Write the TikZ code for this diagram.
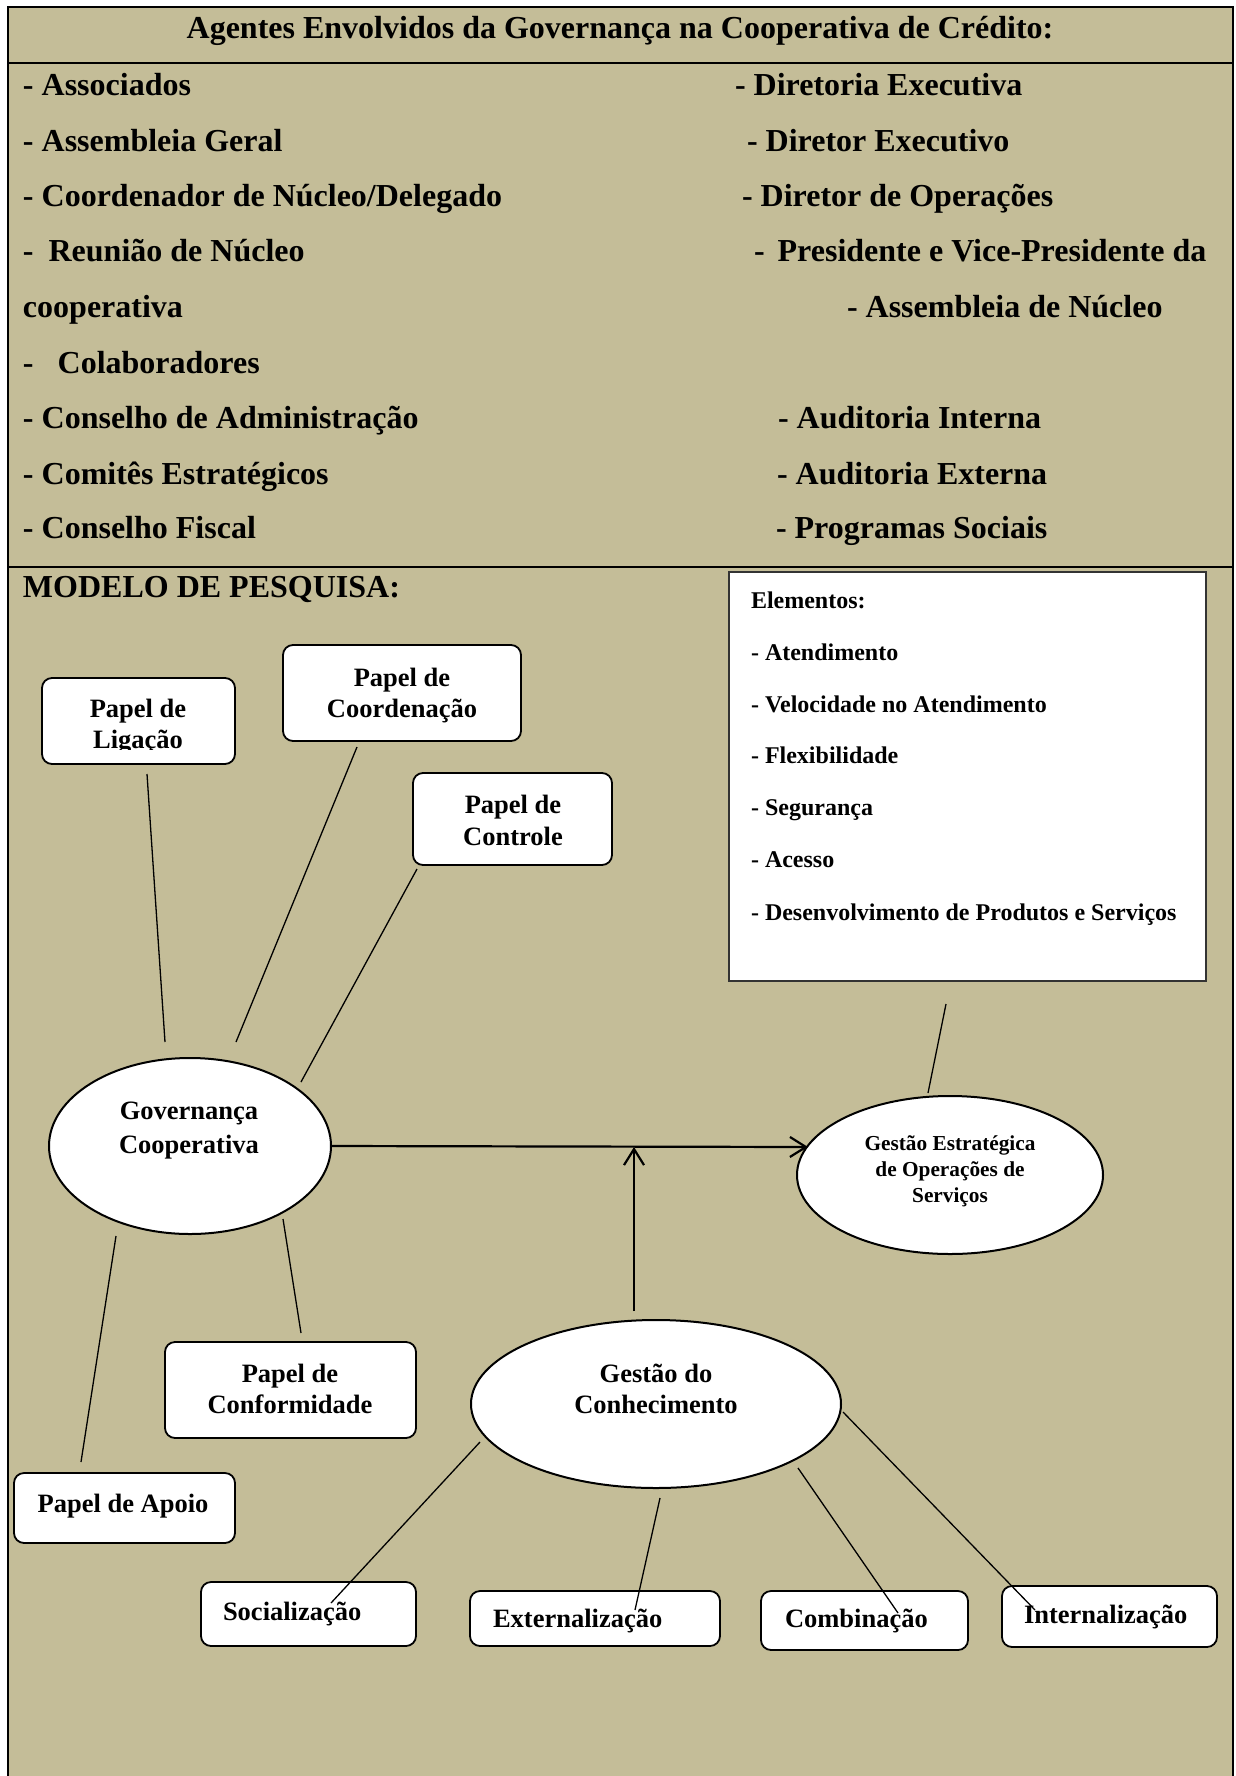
\documentclass[tikz,border=0pt]{standalone}
\usepackage{fontspec}
\setmainfont{Liberation Serif}
\usetikzlibrary{arrows.meta,shapes.geometric}
\definecolor{bgtan}{HTML}{C4BD98}
\begin{document}
\begin{tikzpicture}[x=1pt,y=-1pt,
  every node/.style={inner sep=0pt,outer sep=0pt},
  lst/.style={anchor=base west,font=\fontsize{32}{36}\selectfont\bfseries},
  elt/.style={anchor=base west,font=\fontsize{24}{28}\selectfont\bfseries},
  btxt/.style={anchor=base,font=\fontsize{26.5}{30}\selectfont\bfseries},
  bltxt/.style={anchor=base west,font=\fontsize{26.5}{30}\selectfont\bfseries},
  stxt/.style={anchor=base,font=\fontsize{21.3}{25}\selectfont\bfseries},
  rbox/.style={draw,line width=1.8pt,fill=white,rounded corners=10pt},
  ell/.style={draw,ellipse,line width=2pt,fill=white},
  con/.style={line width=1.3pt},
  arr/.style={line width=2.2pt,-{Straight Barb[length=16pt,width=20pt]}}
]
\useasboundingbox (0,0) rectangle (1235,1776);
% background and frame
\fill[bgtan] (8,7) rectangle (1233,1776);
\draw[line width=2.4pt] (8,1776) -- (8,7) -- (1233,7) -- (1233,1776);
\draw[line width=2.4pt] (8,63) -- (1233,63);
\draw[line width=1.3pt] (8,567) -- (1233,567);

% header
\node[anchor=base,font=\fontsize{32}{36}\selectfont\bfseries] (title) at (620,39) {Agentes Envolvidos da Governança na Cooperativa de Crédito:};

% left list
\node[lst] (l1) at (23,96) {- Associados};
\node[lst] (l2) at (23,152) {- Assembleia Geral};
\node[lst] (l3) at (23,207) {- Coordenador de Núcleo/Delegado};
\node[lst] (l4) at (23,262) {-\hspace{15pt}Reunião de Núcleo};
\node[lst] (l5) at (23,317) {cooperativa};
\node[lst] (l6) at (23,373) {-\hspace{24pt}Colaboradores};
\node[lst] (l7) at (23,428) {- Conselho de Administração};
\node[lst] (l8) at (23,484) {- Comitês Estratégicos};
\node[lst] (l9) at (23,538) {- Conselho Fiscal};

% right list
\node[lst] (r1) at (735,96) {- Diretoria Executiva};
\node[lst] (r2) at (747,152) {- Diretor Executivo};
\node[lst] (r3) at (742,207) {- Diretor de Operações};
\node[lst] (r4) at (754,262) {-\hspace{13pt}Presidente e Vice-Presidente da};
\node[lst] (r5) at (847,317) {- Assembleia de Núcleo};
\node[lst] (r6) at (778,428) {- Auditoria Interna};
\node[lst] (r7) at (777,484) {- Auditoria Externa};
\node[lst] (r8) at (776,538) {- Programas Sociais};

% model title
\node[lst] (mt) at (23,597) {MODELO DE PESQUISA:};

% Elementos box
\node[draw=black!80,line width=2pt,fill=white,minimum width=477pt,minimum height=409pt] (elem) at (967.5,776.5) {};
\node[elt] (e0) at (751,608) {Elementos:};
\node[elt] (e1) at (751,660) {- Atendimento};
\node[elt] (e2) at (751,712) {- Velocidade no Atendimento};
\node[elt] (e3) at (751,763) {- Flexibilidade};
\node[elt] (e4) at (751,815) {- Segurança};
\node[elt] (e5) at (751,867) {- Acesso};
\node[elt] (e6) at (751,920) {- Desenvolvimento de Produtos e Serviços};

% role boxes
\node[rbox,minimum width=193pt,minimum height=86pt] (lig) at (138.5,721) {};
\begin{scope}
\clip (42,678) rectangle (235,749.5);
\node[btxt] (ligt1) at (138,717) {Papel de};
\node[btxt] (ligt2) at (138,748) {Ligação};
\end{scope}
\node[rbox,minimum width=238pt,minimum height=96pt] (coo) at (402,693) {};
\node[btxt] (coot1) at (402,686) {Papel de};
\node[btxt] (coot2) at (402,717) {Coordenação};
\node[rbox,minimum width=199pt,minimum height=92pt] (ctl) at (512.5,819) {};
\node[btxt] (ctlt1) at (513,813) {Papel de};
\node[btxt] (ctlt2) at (513,845) {Controle};
\node[rbox,minimum width=251pt,minimum height=96pt] (cnf) at (290.5,1390) {};
\node[btxt] (cnft1) at (290,1382) {Papel de};
\node[btxt] (cnft2) at (290,1413) {Conformidade};
\node[rbox,minimum width=221pt,minimum height=70pt] (apo) at (124.5,1508) {};
\node[btxt] (apot) at (123,1512) {Papel de Apoio};
\node[rbox,minimum width=215pt,minimum height=64pt] (soc) at (308.5,1614) {};
\node[bltxt] (soct) at (223,1620) {Socialização};
\node[rbox,minimum width=250pt,minimum height=55pt] (ext) at (595,1618.5) {};
\node[bltxt] (extt) at (493,1627) {Externalização};
\node[rbox,minimum width=207pt,minimum height=59pt] (cmb) at (864.5,1620.5) {};
\node[bltxt] (cmbt) at (785,1627) {Combinação};
\node[rbox,minimum width=215pt,minimum height=61pt] (int) at (1109.5,1616.5) {};
\node[bltxt] (intt) at (1024,1623) {Internalização};

% ellipses
\node[ell,minimum width=282pt,minimum height=176pt] (gov) at (190,1146) {};
\node[btxt] (govt1) at (189,1119) {Governança};
\node[btxt] (govt2) at (189,1153) {Cooperativa};
\node[ell,minimum width=306pt,minimum height=158pt] (gse) at (950,1175) {};
\node[stxt] (gset1) at (950,1150) {Gestão Estratégica};
\node[stxt] (gset2) at (950,1176) {de Operações de};
\node[stxt] (gset3) at (950,1202) {Serviços};
\node[ell,minimum width=370pt,minimum height=168pt] (gkn) at (656,1404) {};
\node[btxt] (gknt1) at (656,1382) {Gestão do};
\node[btxt] (gknt2) at (656,1413) {Conhecimento};

% connector end points
\coordinate (c1a) at (147,774);  \coordinate (c1b) at (165,1042);
\coordinate (c2a) at (357,747);  \coordinate (c2b) at (236,1042);
\coordinate (c3a) at (417,869);  \coordinate (c3b) at (301,1082);
\coordinate (c4a) at (116,1236); \coordinate (c4b) at (81,1462);
\coordinate (c5a) at (283,1219); \coordinate (c5b) at (301,1333);
\coordinate (c6a) at (480,1442); \coordinate (c6b) at (331,1603);
\coordinate (c7a) at (660,1498); \coordinate (c7b) at (635,1610);
\coordinate (c8a) at (798,1468); \coordinate (c8b) at (898,1613);
\coordinate (c9a) at (843,1412); \coordinate (c9b) at (1035,1610);
\coordinate (c10a) at (946,1004); \coordinate (c10b) at (928,1093);
\coordinate (gkup) at (634,1311); \coordinate (jn) at (634,1147);
\coordinate (gseL) at (808,1147);

\draw[con] (c1a) -- (c1b);
\draw[con] (c2a) -- (c2b);
\draw[con] (c3a) -- (c3b);
\draw[con] (c4a) -- (c4b);
\draw[con] (c5a) -- (c5b);
\draw[con] (c6a) -- (c6b);
\draw[con] (c7a) -- (c7b);
\draw[con] (c8a) -- (c8b);
\draw[con] (c9a) -- (c9b);
\draw[con] (c10a) -- (c10b);

\draw[arr] (gov.east) -- (gseL);
\draw[arr] (gkup) -- (jn);
\end{tikzpicture}
\end{document}
